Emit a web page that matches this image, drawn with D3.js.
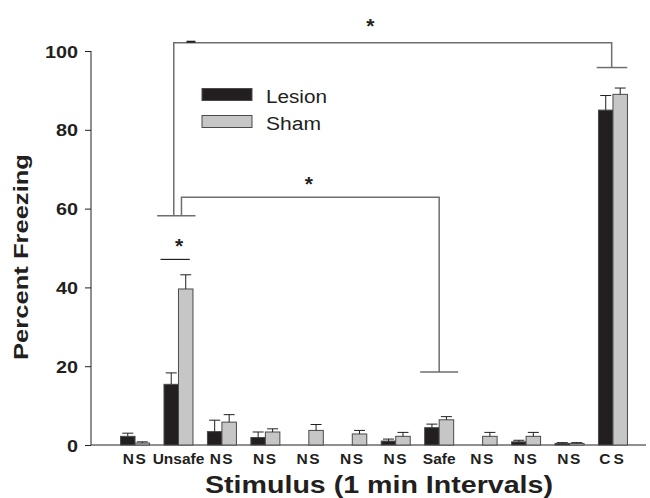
<!DOCTYPE html>
<html>
<head>
<meta charset="utf-8">
<script src="https://cdn.jsdelivr.net/npm/d3@7"></script>
<style>
  body { margin: 0; background: #fff; }
  svg { display: block; font-family: "Liberation Sans", Arial, sans-serif; }
</style>
</head>
<body>
<svg id="chart" width="650" height="498"></svg>
<script>
// stimulus labels, one per 1 min interval
var categories = ["NS", "Unsafe", "NS", "NS", "NS", "NS", "NS", "Safe", "NS", "NS", "NS", "CS"]
var series = ["Lesion", "Sham"]
// percent freezing
var lesion    = [2.2, 15.4, 3.4, 1.9, 0, 0, 1.0, 4.4, 0, 0.8, 0.4, 85.0]
var lesionErr = [0.8, 2.9, 2.9, 1.4, 0, 0, 0.5, 0.9, 0, 0.4, 0.2, 3.7]
var sham      = [0.5, 39.6, 5.8, 3.3, 3.7, 2.8, 2.2, 6.4, 2.2, 2.2, 0.4, 89.0]
var shamErr   = [0.3, 3.6, 1.9, 0.8, 1.5, 0.9, 1.0, 0.8, 1.0, 1.0, 0.2, 1.6]
var yTicks = [0, 20, 40, 60, 80, 100]

var svg = d3.select("#chart")
var ink = "#231f20"

var y = d3.scaleLinear().domain([0, 100]).range([445, 51])
var x = d3.scaleBand().domain(d3.range(categories.length))
    .range([113.3, 634.7]).paddingInner(0.333).paddingOuter(0.1665)
var xs = d3.scaleBand().domain(series).range([0, x.bandwidth()])
var color = { Lesion: "#231f20", Sham: "#c6c6c6" }

var rows = []
categories.forEach(function (c, i) {
    rows.push({ i: i, s: "Lesion", v: lesion[i], e: lesionErr[i] })
    rows.push({ i: i, s: "Sham", v: sham[i], e: shamErr[i] })
})
rows = rows.filter(function (d) { return d.v > 0 })

// y axis
var yAxis = svg.append("g").attr("transform", "translate(91,0)")
    .call(d3.axisLeft(y).tickValues(yTicks).tickSize(6).tickPadding(0).tickFormat(d3.format("d")))
yAxis.select(".domain").attr("stroke", ink).attr("d", "M0," + y(100) + "V" + y(0))
yAxis.selectAll(".tick line").attr("stroke", ink)
yAxis.selectAll(".tick text").remove()
yAxis.selectAll(".tick").append("text")
    .attr("x", -13).attr("dy", 6)
    .attr("text-anchor", "end")
    .attr("fill", ink)
    .attr("font-size", 16).attr("font-weight", "bold")
    .attr("font-family", "Liberation Sans, Arial, sans-serif")
    .attr("textLength", function (d) { return String(d).length * 11 })
    .attr("lengthAdjust", "spacingAndGlyphs")
    .text(function (d) { return d })

// x axis line
svg.append("line").attr("x1", 91).attr("x2", 646)
    .attr("y1", y(0)).attr("y2", y(0)).attr("stroke", ink)

// bars
svg.append("g").selectAll("rect").data(rows).join("rect")
    .attr("x", function (d) { return x(d.i) + xs(d.s) })
    .attr("y", function (d) { return y(d.v) })
    .attr("width", xs.bandwidth())
    .attr("height", function (d) { return y(0) - y(d.v) })
    .attr("fill", function (d) { return color[d.s] })
    .attr("stroke", "#4a4a4a").attr("stroke-width", 1)

// error bars (upper only)
var err = svg.append("g").attr("stroke", ink).attr("stroke-width", 1)
rows.forEach(function (d) {
    var cx = x(d.i) + xs(d.s) + xs.bandwidth() / 2
    err.append("line").attr("x1", cx).attr("x2", cx).attr("y1", y(d.v)).attr("y2", y(d.v + d.e))
    err.append("line").attr("x1", cx - 5.5).attr("x2", cx + 5.5).attr("y1", y(d.v + d.e)).attr("y2", y(d.v + d.e))
})

// x tick labels
svg.append("g").selectAll("text").data(categories).join("text")
    .attr("x", function (d, i) { return x(i) + x.bandwidth() / 2 })
    .attr("y", 463.5)
    .attr("text-anchor", "middle")
    .attr("font-size", 15.5).attr("font-weight", "bold")
    .attr("fill", ink)
    .attr("letter-spacing", function (d) { return d == "CS" ? 3 : (d == "NS" ? 1.5 : 0) })
    .text(function (d) { return d })

// axis titles
svg.append("text").attr("x", 379).attr("y", 493)
    .attr("text-anchor", "middle").attr("font-size", 24).attr("font-weight", "bold").attr("fill", ink)
    .attr("textLength", 348).attr("lengthAdjust", "spacingAndGlyphs")
    .text("Stimulus (1 min Intervals)")
svg.append("text").attr("transform", "translate(28,257) rotate(-90)")
    .attr("text-anchor", "middle").attr("font-size", 21).attr("font-weight", "bold").attr("fill", ink)
    .attr("textLength", 206).attr("lengthAdjust", "spacingAndGlyphs")
    .text("Percent Freezing")

// legend
var legend = svg.append("g")
series.forEach(function (s, k) {
    var ly = [94.5, 121.5][k]
    legend.append("rect").attr("x", 202).attr("y", ly - 6).attr("width", 50).attr("height", 12)
        .attr("fill", color[s]).attr("stroke", "#4a4a4a").attr("stroke-width", 1)
    legend.append("text").attr("x", 266).attr("y", ly + 8)
        .attr("font-size", 18).attr("fill", ink)
        .attr("textLength", s == "Lesion" ? 61 : 55).attr("lengthAdjust", "spacingAndGlyphs")
        .text(s)
})

// significance brackets
function cx(i) { return x(i) + x.bandwidth() / 2 }
var br = svg.append("g").attr("stroke", "#6e6e6e").attr("stroke-width", 1.5).attr("fill", "none")
function path(pts) {
    br.append("path").attr("d", d3.line()(pts))
}
// Unsafe vs CS
path([[cx(1) - 4.7, y(58.2)], [cx(1) - 4.7, y(102.1)], [cx(11) - 1.3, y(102.1)], [cx(11) - 1.3, y(95.8)]])
path([[cx(1) - 21.3, y(58.2)], [cx(1) + 17, y(58.2)]])
path([[cx(11) - 16.3, y(95.8)], [cx(11) + 14.3, y(95.8)]])
svg.append("line").attr("x1", cx(1) + 8).attr("x2", cx(1) + 17)
    .attr("y1", y(102.1) - 1).attr("y2", y(102.1) - 1).attr("stroke", ink).attr("stroke-width", 2)
// Unsafe vs Safe
path([[cx(1) + 3, y(58.2)], [cx(1) + 3, y(62.9)], [cx(7), y(62.9)], [cx(7), y(18.5)]])
path([[cx(7) - 19, y(18.5)], [cx(7) + 19, y(18.5)]])
// Lesion vs Sham at Unsafe
svg.append("line").attr("x1", cx(1) - 18).attr("x2", cx(1) + 11.3)
    .attr("y1", y(47.1)).attr("y2", y(47.1)).attr("stroke", ink).attr("stroke-width", 1.2)

// star centres: [x, percent]
var stars = [[cx(5) + 18, 107.6], [cx(4), 67.3], [cx(1) + 0.5, 51.6]]
svg.append("g").selectAll("text").data(stars).join("text")
    .attr("x", function (d) { return d[0] }).attr("y", function (d) { return y(d[1]) + 11.5 })
    .attr("text-anchor", "middle").attr("font-size", 21).attr("font-weight", "bold").attr("fill", ink)
    .text("*")
</script>
</body>
</html>
